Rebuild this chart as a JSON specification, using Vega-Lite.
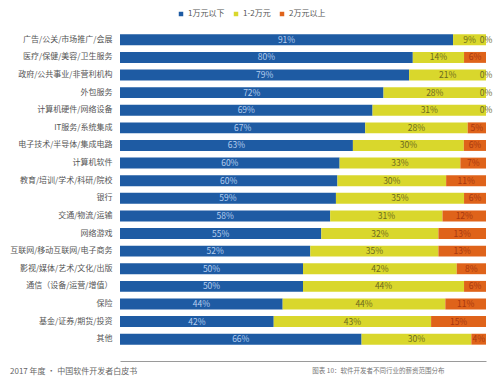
{
  "$schema": "https://vega.github.io/schema/vega-lite/v6.json",
  "width": 366,
  "height": 317,
  "autosize": "none",
  "padding": {"left": 120, "top": 31, "right": 14, "bottom": 39},
  "background": "white",
  "config": {
    "font": "Noto Sans CJK SC",
    "view": {"stroke": null}
  },
  "title": {
    "text": "2017 年度 · 中国软件开发者白皮书",
    "orient": "bottom",
    "anchor": "start",
    "frame": "group",
    "dx": -110,
    "dy": -6,
    "offset": 0,
    "fontSize": 8,
    "fontWeight": "normal",
    "color": "#666666"
  },
  "data": {
    "values": [
      {"category": "广告/公关/市场推广/会展", "band": "1万元以下", "value": 91},
      {"category": "广告/公关/市场推广/会展", "band": "1-2万元", "value": 9},
      {"category": "广告/公关/市场推广/会展", "band": "2万元以上", "value": 0},
      {"category": "医疗/保健/美容/卫生服务", "band": "1万元以下", "value": 80},
      {"category": "医疗/保健/美容/卫生服务", "band": "1-2万元", "value": 14},
      {"category": "医疗/保健/美容/卫生服务", "band": "2万元以上", "value": 6},
      {"category": "政府/公共事业/非营利机构", "band": "1万元以下", "value": 79},
      {"category": "政府/公共事业/非营利机构", "band": "1-2万元", "value": 21},
      {"category": "政府/公共事业/非营利机构", "band": "2万元以上", "value": 0},
      {"category": "外包服务", "band": "1万元以下", "value": 72},
      {"category": "外包服务", "band": "1-2万元", "value": 28},
      {"category": "外包服务", "band": "2万元以上", "value": 0},
      {"category": "计算机硬件/网络设备", "band": "1万元以下", "value": 69},
      {"category": "计算机硬件/网络设备", "band": "1-2万元", "value": 31},
      {"category": "计算机硬件/网络设备", "band": "2万元以上", "value": 0},
      {"category": "IT服务/系统集成", "band": "1万元以下", "value": 67},
      {"category": "IT服务/系统集成", "band": "1-2万元", "value": 28},
      {"category": "IT服务/系统集成", "band": "2万元以上", "value": 5},
      {"category": "电子技术/半导体/集成电路", "band": "1万元以下", "value": 63},
      {"category": "电子技术/半导体/集成电路", "band": "1-2万元", "value": 30},
      {"category": "电子技术/半导体/集成电路", "band": "2万元以上", "value": 6},
      {"category": "计算机软件", "band": "1万元以下", "value": 60},
      {"category": "计算机软件", "band": "1-2万元", "value": 33},
      {"category": "计算机软件", "band": "2万元以上", "value": 7},
      {"category": "教育/培训/学术/科研/院校", "band": "1万元以下", "value": 60},
      {"category": "教育/培训/学术/科研/院校", "band": "1-2万元", "value": 30},
      {"category": "教育/培训/学术/科研/院校", "band": "2万元以上", "value": 11},
      {"category": "银行", "band": "1万元以下", "value": 59},
      {"category": "银行", "band": "1-2万元", "value": 35},
      {"category": "银行", "band": "2万元以上", "value": 6},
      {"category": "交通/物流/运输", "band": "1万元以下", "value": 58},
      {"category": "交通/物流/运输", "band": "1-2万元", "value": 31},
      {"category": "交通/物流/运输", "band": "2万元以上", "value": 12},
      {"category": "网络游戏", "band": "1万元以下", "value": 55},
      {"category": "网络游戏", "band": "1-2万元", "value": 32},
      {"category": "网络游戏", "band": "2万元以上", "value": 13},
      {"category": "互联网/移动互联网/电子商务", "band": "1万元以下", "value": 52},
      {"category": "互联网/移动互联网/电子商务", "band": "1-2万元", "value": 35},
      {"category": "互联网/移动互联网/电子商务", "band": "2万元以上", "value": 13},
      {"category": "影视/媒体/艺术/文化/出版", "band": "1万元以下", "value": 50},
      {"category": "影视/媒体/艺术/文化/出版", "band": "1-2万元", "value": 42},
      {"category": "影视/媒体/艺术/文化/出版", "band": "2万元以上", "value": 8},
      {"category": "通信（设备/运营/增值）", "band": "1万元以下", "value": 50},
      {"category": "通信（设备/运营/增值）", "band": "1-2万元", "value": 44},
      {"category": "通信（设备/运营/增值）", "band": "2万元以上", "value": 6},
      {"category": "保险", "band": "1万元以下", "value": 44},
      {"category": "保险", "band": "1-2万元", "value": 44},
      {"category": "保险", "band": "2万元以上", "value": 11},
      {"category": "基金/证券/期货/投资", "band": "1万元以下", "value": 42},
      {"category": "基金/证券/期货/投资", "band": "1-2万元", "value": 43},
      {"category": "基金/证券/期货/投资", "band": "2万元以上", "value": 15},
      {"category": "其他", "band": "1万元以下", "value": 66},
      {"category": "其他", "band": "1-2万元", "value": 30},
      {"category": "其他", "band": "2万元以上", "value": 4}
    ]
  },
  "transform": [
    {"calculate": "indexof(['1万元以下','1-2万元','2万元以上'], datum.band)", "as": "ord"},
    {"stack": "value", "groupby": ["category"], "sort": [{"field": "ord", "order": "ascending"}], "offset": "normalize", "as": ["x0", "x1"]},
    {"calculate": "(datum.x0 + datum.x1) / 2", "as": "mid"},
    {"calculate": "datum.value + '%'", "as": "label"},
    {"calculate": "datum.value === 0 ? 'zero' : datum.band", "as": "labelKind"}
  ],
  "encoding": {
    "y": {
      "field": "category",
      "type": "nominal",
      "sort": null,
      "scale": {"paddingInner": 0.38, "paddingOuter": 0.19},
      "axis": {
        "title": null,
        "domain": false,
        "ticks": false,
        "labelPadding": 8,
        "labelFontSize": 8,
        "labelColor": "#555555",
        "labelLimit": 200
      }
    }
  },
  "resolve": {"scale": {"color": "independent"}, "legend": {"color": "independent"}},
  "layer": [
    {
      "mark": {"type": "bar"},
      "encoding": {
        "x": {
          "field": "x0",
          "type": "quantitative",
          "scale": {"domain": [0, 1], "nice": false},
          "axis": {
            "title": "图表 10：软件开发者不同行业的薪资范围分布",
            "titleFontSize": 6.5,
            "titleFontWeight": "normal",
            "titleColor": "#777777",
            "titleAnchor": "end",
            "titleAlign": "right",
            "titleBaseline": "middle",
            "titleX": 324,
            "titleY": 9,
            "labels": false,
            "ticks": false,
            "grid": false,
            "domain": true,
            "domainColor": "#9a9a9a",
            "offset": 13
          }
        },
        "x2": {"field": "x1"},
        "color": {
          "field": "band",
          "type": "nominal",
          "scale": {
            "domain": ["1万元以下", "1-2万元", "2万元以上"],
            "range": ["#1e5ba3", "#d9d72c", "#df631a"]
          },
          "legend": {
            "title": null,
            "orient": "none",
            "legendX": 57,
            "legendY": -21,
            "direction": "horizontal",
            "symbolType": "square",
            "symbolSize": 20,
            "labelFontSize": 8,
            "labelOffset": 3,
            "labelColor": "#555555",
            "columnPadding": 7,
            "symbolStrokeWidth": 0
          }
        }
      }
    },
    {
      "mark": {"type": "text", "fontSize": 8.5, "baseline": "middle", "align": "center"},
      "encoding": {
        "x": {"field": "mid", "type": "quantitative"},
        "text": {"field": "label"},
        "color": {
          "field": "labelKind",
          "type": "nominal",
          "scale": {
            "domain": ["1万元以下", "1-2万元", "2万元以上", "zero"],
            "range": ["#b4cdef", "#6d6a1e", "#a8380f", "#6d6a2a"]
          },
          "legend": null
        }
      }
    }
  ]
}
